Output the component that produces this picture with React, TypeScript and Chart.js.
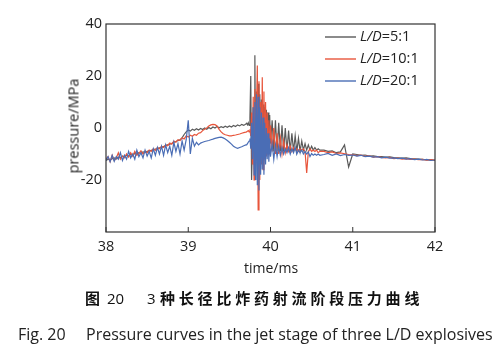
import React, { useEffect, useRef } from "react";
import { Chart, registerables } from "chart.js";

Chart.register(...registerables);

const timeA = [38, 38.025, 38.05, 38.075, 38.1, 38.125, 38.15, 38.175, 38.2, 38.225,
  38.25, 38.275, 38.3, 38.325, 38.35, 38.375, 38.4, 38.425, 38.45, 38.475,
  38.5, 38.525, 38.55, 38.575, 38.6, 38.625, 38.65, 38.675, 38.7, 38.725,
  38.75, 38.775, 38.8, 38.825, 38.85, 38.875, 38.9, 38.925, 38.95, 38.975,
  39, 39.025, 39.05, 39.075, 39.1, 39.125, 39.15, 39.175, 39.2, 39.225,
  39.25, 39.275, 39.3, 39.325, 39.35, 39.375, 39.4, 39.425, 39.45, 39.475,
  39.5, 39.525, 39.55, 39.575, 39.6, 39.625, 39.65, 39.675, 39.7];
const timeB = [39.71, 39.72, 39.73, 39.74, 39.75, 39.76, 39.77, 39.78, 39.79, 39.8,
  39.81, 39.82, 39.83, 39.84, 39.85, 39.86, 39.87, 39.88, 39.89, 39.9,
  39.91, 39.92, 39.93, 39.94, 39.95, 39.96, 39.97, 39.98, 39.99, 40];
const timeC = [40.02, 40.04, 40.06, 40.08, 40.1, 40.12, 40.14, 40.16, 40.18, 40.2,
  40.22, 40.24, 40.26, 40.28, 40.3, 40.32, 40.34, 40.36, 40.38, 40.4,
  40.42, 40.44, 40.46, 40.48, 40.5, 40.52, 40.54, 40.56, 40.58, 40.6];
const timeD = [40.65, 40.7, 40.75, 40.8, 40.85, 40.9, 40.95, 41, 41.05, 41.1,
  41.15, 41.2, 41.25, 41.3, 41.35, 41.4, 41.45, 41.5, 41.55, 41.6,
  41.65, 41.7, 41.75, 41.8, 41.85, 41.9, 41.95, 42];
const times = [...timeA, ...timeB, ...timeC, ...timeD];

const gray5 = [
  -12.5, -12, -12.3, -11.8, -11.5, -11.9, -11.2, -11.4, -10.8, -11,
  -10.5, -10.8, -10.2, -10.4, -9.8, -10, -9.5, -9.7, -9.2, -9.4,
  -9, -8.8, -8.6, -8.4, -8.1, -8, -7.6, -7.5, -7.1, -6.8,
  -6.5, -6.2, -5.9, -5.5, -5.2, -4.8, -4.5, -3.8, -2.5, -1.5,
  -0.8, -1.2, -0.5, -0.9, -0.3, -0.8, -0.2, -0.6, 0, -0.5,
  0.2, -0.3, 0.4, 0, 0.6, 0.1, 0.5, 0.2, 0.7, 0.3,
  0.8, 0.4, 1, 0.6, 1.2, 0.8, 1.4, 1, 1.5,
  1.8, 1.2, 2, 1, 4, 20, -20, -6, 8, -14,
  28, -20, 14, -12, 17, -14, 13, -12, 11, -10,
  9, -8, 8, -7, 7, -6, 6, -5, 5, -6,
  3, -9, 3, -9, 2, -9, 1, -9, 0, -9,
  -1, -9, -2, -9, -3, -9, -4, -9, -5, -8.5,
  -6, -8.5, -6.5, -8.5, -7, -8.5, -7.5, -8.5, -8, -8.5,
  -8.5, -9, -8.8, -9.5, -9.2, -6.5, -15, -10, -10.2, -10.5,
  -10.4, -10.8, -10.7, -11, -11, -11.2, -11.1, -11.4, -11.5, -11.6,
  -11.5, -11.8, -11.9, -12, -12.1, -12.3, -12.2, -12.5];

const red10 = [
  -12, -11, -13, -10.5, -12.5, -11.5, -9.5, -12, -10.8, -11.5,
  -10, -11.2, -9.5, -10.8, -9, -10.5, -9.8, -8.8, -10, -9,
  -9.5, -8.5, -9, -8, -8.6, -7.5, -8, -7, -7.5, -6.5,
  -6.8, -5.8, -6.2, -5, -5.5, -4.5, -4.8, -3.8, -4.2, -3,
  -3.5, -2.8, -3.2, -2.5, -2.8, -2, -1.8, -1, -0.5, 0,
  0.8, 1.2, 1.4, 1.3, 0.8, -0.5, -1.5, -2.2, -2.6, -2.8,
  -3, -3, -2.8, -2.7, -2.5, -2.3, -2, -1.8, -1.6,
  -1.5, -1.2, -1, -1.5, -0.5, -3, 6, -14, 12, -20,
  15, -10, 8, 24, -31.5, 18, -20, 10, -14, 19.5,
  -16, 14, -12, 10, -11, 6, -10, 3, -9, 1,
  -9, 0, -10, -2, -10, -4, -10, -5, -9.5, -6.5,
  -9, -7, -9, -7.5, -8.5, -8, -9, -8, -8.5, -8,
  -9, -17.3, -9, -8, -9, -8.5, -9, -8.5, -9.5, -9,
  -9, -9.5, -9.2, -9.8, -9.6, -9.9, -10.2, -10.3, -10.6, -10.4,
  -10.9, -10.7, -11.2, -11, -11.3, -11.5, -11.3, -11.8, -11.6, -12,
  -11.8, -12.1, -12, -12.2, -12.1, -12.4, -12.2, -12.3];

const blue20 = [
  -12.5, -11, -13, -10.5, -12.8, -11, -12, -9.5, -12.5, -10.5,
  -12, -9, -11.5, -10, -12, -8.5, -11, -9.5, -11.5, -8.5,
  -10.8, -9, -11.5, -8, -10.5, -7.5, -10, -7, -10.5, -6.5,
  -9.5, -7, -10.5, -5.5, -9, -6, -10, -5, -8.5, -4.5,
  3, -10, -4, -7, -5.5, -6.5, -5.8, -5.5, -5.2, -5,
  -4.8, -4.5, -4.3, -4, -3.8, -3.6, -3.5, -3.8, -4.2, -4.8,
  -5.5, -6.2, -7, -7.5, -7.8, -7.5, -7.2, -6.8, -6.5,
  -6.5, -6, -5.5, -5, -4, -8, 2, -12, 8, -18,
  10, -20, 13, -22, 12, -24, 8, -18, 6, -16,
  4, -18, 2, -14, 0, -12, -2, -13, -4, -11,
  -6, -12, -6.5, -11, -7, -10.5, -7.5, -10, -8, -9.5,
  -7.5, -10, -8, -9.5, -7.5, -10, -8.5, -9.5, -8.5, -10,
  -9, -10, -9.2, -11, -9.8, -10.5, -10, -10.5, -10, -10.5,
  -10.2, -9.8, -10.5, -10, -10.6, -10.2, -10.5, -10.4, -10.8, -10.5,
  -11, -10.8, -11.2, -11, -11.5, -11.2, -11.6, -11.5, -11.8, -11.6,
  -12, -11.8, -12.2, -12, -12.3, -12.1, -12.5, -12.3];

const seriesLabels = ["5:1", "10:1", "20:1"];
const seriesColors = ["#5a5a5a", "#e8553b", "#4a6db5"];
const seriesValues = [gray5, red10, blue20];
const xTicks = [38, 39, 40, 41, 42];
const yTicks = [-20, 0, 20, 40];

const SANS = "'Open Sans', 'DejaVu Sans', sans-serif";

const framePlugin = {
  id: "frame",
  afterDraw(chart: any) {
    const { ctx, chartArea } = chart;
    const { left, top, right, bottom } = chartArea;
    ctx.save();
    ctx.strokeStyle = "#333";
    ctx.lineWidth = 1.2;
    ctx.strokeRect(left, top, right - left, bottom - top);
    const xs = chart.scales.x;
    ctx.lineWidth = 1;
    xs.ticks.forEach((t: any) => {
      const px = xs.getPixelForValue(t.value);
      ctx.beginPath();
      ctx.moveTo(px, bottom);
      ctx.lineTo(px, bottom - 5);
      ctx.stroke();
    });
    const lx0 = 325, lx1 = 356;
    const ys = [37, 59, 81];
    ctx.textBaseline = "middle";
    seriesLabels.forEach((lab, i) => {
      const y = ys[i];
      ctx.strokeStyle = seriesColors[i];
      ctx.lineWidth = 1.4;
      ctx.beginPath();
      ctx.moveTo(lx0, y);
      ctx.lineTo(lx1, y);
      ctx.stroke();
      ctx.fillStyle = "#222";
      ctx.font = "italic 14.5px " + SANS;
      ctx.fillText("L/D", 360, y);
      const w = ctx.measureText("L/D").width;
      ctx.font = "14.5px " + SANS;
      ctx.fillText("=" + lab, 360 + w, y);
    });
    ctx.restore();
  },
};

export default function App() {
  const ref = useRef<HTMLCanvasElement>(null);
  useEffect(() => {
    document.body.style.margin = "0";
    const canvas = ref.current;
    if (!canvas) return;
    const datasets = seriesValues.map((vals, i) => ({
      label: "L/D=" + seriesLabels[i],
      data: times.map((t, k) => ({ x: t, y: vals[k] })),
      borderColor: seriesColors[i],
      borderWidth: 1.2,
      pointRadius: 0,
      tension: 0,
      fill: false,
      order: 3 - i,
    }));
    const chart = new Chart(canvas, {
      type: "line",
      data: { datasets },
      plugins: [framePlugin],
      options: {
        animation: false,
        responsive: false,
        devicePixelRatio: 1,
        layout: { padding: { left: 0, top: 24, right: 65, bottom: 0 } },
        plugins: { legend: { display: false }, tooltip: { enabled: false } },
        scales: {
          x: {
            type: "linear",
            min: 38,
            max: 42,
            afterFit: (s: any) => { s.height = 120; },
            afterBuildTicks: (s: any) => { s.ticks = xTicks.map((v) => ({ value: v })); },
            grid: { display: false, drawTicks: false },
            border: { display: false },
            ticks: { padding: 6, color: "#222", font: { family: SANS, size: 14.5 } },
          },
          y: {
            type: "linear",
            min: -40,
            max: 40,
            afterFit: (s: any) => { s.width = 106; },
            afterBuildTicks: (s: any) => { s.ticks = yTicks.map((v) => ({ value: v })); },
            grid: { display: false, drawTicks: false },
            border: { display: false },
            ticks: { padding: 4, color: "#222", font: { family: SANS, size: 14.5 } },
          },
        },
      },
    } as any);
    return () => chart.destroy();
  }, []);

  return (
    <div style={{ position: "relative", width: 500, height: 352, background: "#fff", overflow: "hidden" }}>
      <canvas ref={ref} width={500} height={352} style={{ position: "absolute", left: 0, top: 0, width: 500, height: 352 }} />
      <div style={{ position: "absolute", left: 73, top: 126, transform: "translate(-50%, -50%) rotate(-90deg)", fontFamily: SANS, fontSize: 14.5, color: "#222", whiteSpace: "nowrap" }}>
        pressure/MPa
      </div>
      <div style={{ position: "absolute", left: 271, top: 267, transform: "translate(-50%, -50%)", fontFamily: SANS, fontSize: 14, color: "#222", whiteSpace: "nowrap" }}>
        time/ms
      </div>
      <div style={{ position: "absolute", left: 0, top: 287, width: 500, height: 22, fontSize: 15, color: "#111", whiteSpace: "nowrap" }}>
        <span style={{ position: "absolute", left: 85, fontFamily: "'Noto Sans CJK SC', sans-serif", fontWeight: 700 }}>图</span>
        <span style={{ position: "absolute", left: 107, fontFamily: SANS, top: 1 }}>20</span>
        <span style={{ position: "absolute", left: 147, fontFamily: SANS, top: 1 }}>3</span>
        <span style={{ position: "absolute", left: 160, fontFamily: "'Noto Sans CJK SC', sans-serif", fontWeight: 700, letterSpacing: 3.8 }}>种长径比炸药射流阶段压力曲线</span>
      </div>
      <div style={{ position: "absolute", left: 0, top: 323, width: 500, height: 22, fontFamily: SANS, fontSize: 16, color: "#222", whiteSpace: "nowrap" }}>
        <span style={{ position: "absolute", left: 18 }}>Fig. 20</span>
        <span style={{ position: "absolute", left: 86 }}>Pressure curves in the jet stage of three L/D explosives</span>
      </div>
    </div>
  );
}
